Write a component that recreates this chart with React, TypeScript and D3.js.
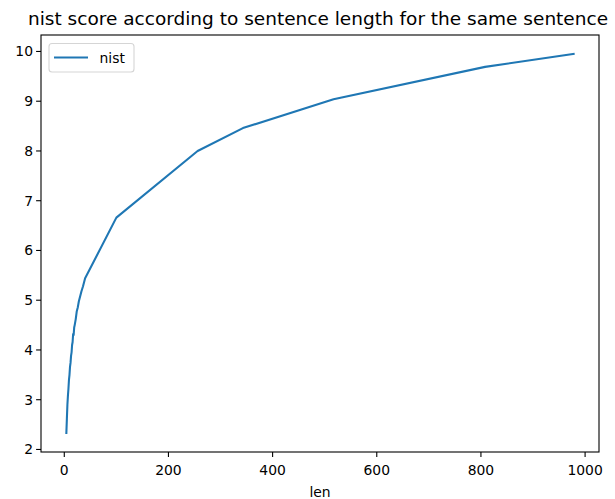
import React from "react";
import * as d3 from "d3";

// sentence length (tokens) and the corresponding NIST score
const lengths = [4, 5, 6, 7, 8, 9, 10, 11, 12, 13, 14, 15, 16, 17, 18, 19, 20, 22, 24, 26, 28, 30, 33, 36, 40, 100, 256, 343, 517, 808, 978];
const nistScores = [2.33, 2.62, 2.9, 3.08, 3.22, 3.4, 3.5, 3.66, 3.74, 3.88, 3.95, 4.1, 4.16, 4.32, 4.3, 4.45, 4.5, 4.62, 4.78, 4.86, 4.98, 5.06, 5.18, 5.28, 5.44, 6.66, 8.0, 8.46, 9.04, 9.69, 9.95];
const xTicks = [0, 200, 400, 600, 800, 1000];
const yTicks = [2, 3, 4, 5, 6, 7, 8, 9, 10];

const W = 615;
const H = 499;
const left = 41;
const right = 599;
const top = 35;
const bottom = 452;
const font = "DejaVu Sans, sans-serif";
const blue = "#1f77b4";

export default function App() {
  const xExt = d3.extent(lengths) as [number, number];
  const yExt = d3.extent(nistScores) as [number, number];
  const xPad = (xExt[1] - xExt[0]) * 0.05;
  const yPad = (yExt[1] - yExt[0]) * 0.05;
  const x = d3.scaleLinear().domain([xExt[0] - xPad, xExt[1] + xPad]).range([left, right]);
  const y = d3.scaleLinear().domain([yExt[0] - yPad, yExt[1] + yPad]).range([bottom, top]);

  const line = d3
    .line<number>()
    .x((_, i) => x(lengths[i]))
    .y((d) => y(d));

  return (
    <svg
      width={W}
      height={H}
      style={{ position: "absolute", left: 0, top: 0, background: "#fff" }}
      fontFamily={font}
    >
      <rect x={0} y={0} width={W} height={H} fill="#fff" />
      <text x={318} y={25} textAnchor="middle" fontSize={18.5} fill="#000">
        nist score according to sentence length for the same sentence
      </text>

      <path d={line(nistScores) || ""} fill="none" stroke={blue} strokeWidth={2.08} strokeLinejoin="round" strokeLinecap="square" />

      {/* axes frame */}
      <rect x={left} y={top} width={right - left} height={bottom - top} fill="none" stroke="#000" strokeWidth={1.1} />

      {xTicks.map((t) => (
        <g key={"x" + t}>
          <line x1={x(t)} x2={x(t)} y1={bottom} y2={bottom + 4.9} stroke="#000" strokeWidth={1.1} />
          <text x={x(t)} y={bottom + 22.5} textAnchor="middle" fontSize={13.9} fill="#000">
            {t}
          </text>
        </g>
      ))}
      {yTicks.map((t) => (
        <g key={"y" + t}>
          <line x1={left - 4.9} x2={left} y1={y(t)} y2={y(t)} stroke="#000" strokeWidth={1.1} />
          <text x={left - 8} y={y(t) + 5} textAnchor="end" fontSize={13.9} fill="#000">
            {t}
          </text>
        </g>
      ))}
      <text x={(left + right) / 2} y={497} textAnchor="middle" fontSize={13.9} fill="#000">
        len
      </text>

      {/* legend */}
      <rect x={49} y={43.5} width={85} height={28.5} rx={3} fill="#fff" fillOpacity={0.8} stroke="#d5d5d5" strokeWidth={1.1} />
      <line x1={54} x2={88} y1={57.5} y2={57.5} stroke={blue} strokeWidth={2.08} />
      <text x={99.5} y={62.5} fontSize={13.9} fill="#000">
        nist
      </text>
    </svg>
  );
}
